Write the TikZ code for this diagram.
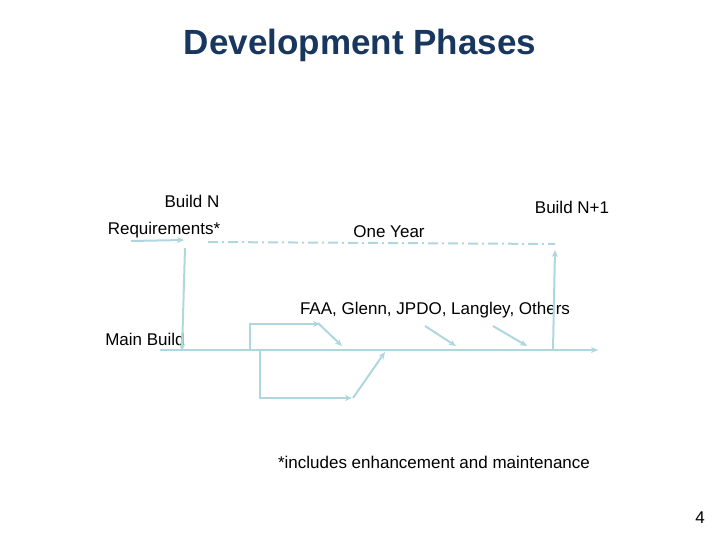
\documentclass[tikz,border=0pt]{standalone}
\usepackage{fontspec}
\setmainfont{Liberation Sans}
\usetikzlibrary{arrows.meta}
\begin{document}
\begin{tikzpicture}[x=1pt,y=-1pt,
  ln/.style={draw={rgb,255:red,176;green,214;blue,222},line width=2pt},
  ar/.style={ln,-{Stealth[length=7pt,width=6pt]}},
  lbl/.style={font=\fontsize{17}{20}\selectfont,inner sep=0pt}]
\useasboundingbox (0,0) rectangle (720,540);
\node[font=\fontsize{35}{40}\selectfont\bfseries,text={rgb,255:red,23;green,55;blue,94}] (title) at (360,45) {Development Phases};
\node[lbl] (bn) at (192,201) {Build N};
\node[lbl] (req) at (164,230) {Requirements*};
\node[lbl] (bn1) at (572,207) {Build N+1};
\node[lbl] (oy) at (389,232) {One Year};
\node[lbl] (faa) at (435,310) {FAA, Glenn, JPDO, Langley, Others};
\node[lbl] (mb) at (145,339) {Main Build};
\node[lbl] (inc) at (434,462) {*includes enhancement and maintenance};
\node[lbl] (pg) at (700,518) {4};
\coordinate (r0) at (131,241); \coordinate (r1) at (184,240);
\coordinate (v0) at (185,248); \coordinate (v1) at (182,351);
\coordinate (m0) at (160,350); \coordinate (m1) at (598,350);
\coordinate (d0) at (208,242); \coordinate (d1) at (555,244);
\coordinate (u0) at (553,350); \coordinate (u1) at (555,250);
\coordinate (a0) at (250,350); \coordinate (a1) at (320,324);
\coordinate (b0) at (318,323); \coordinate (b1) at (342,346);
\coordinate (c0) at (260,350); \coordinate (c1) at (352,398);
\coordinate (e0) at (353,398); \coordinate (e1) at (385,352);
\coordinate (f0) at (425,326); \coordinate (f1) at (456,346);
\coordinate (g0) at (493,326); \coordinate (g1) at (527,346);
\draw[ar] (r0) -- (r1);
\draw[ar] (v0) -- (v1);
\draw[ar] (m0) -- (m1);
\draw[ln,dash pattern=on 10pt off 4pt on 2pt off 4pt] (d0) -- (d1);
\draw[ar] (u0) -- (u1);
\draw[ar] (a0) |- (a1);
\draw[ar] (b0) -- (b1);
\draw[ar] (c0) |- (c1);
\draw[ar] (e0) -- (e1);
\draw[ar] (f0) -- (f1);
\draw[ar] (g0) -- (g1);
\end{tikzpicture}
\end{document}
